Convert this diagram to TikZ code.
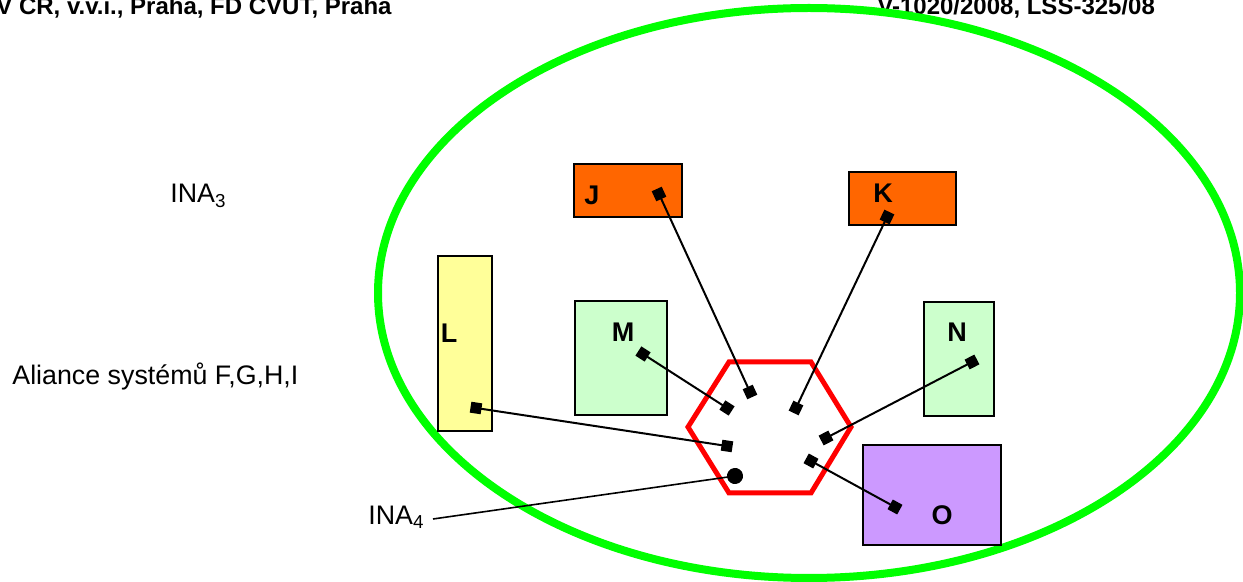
\documentclass[tikz,border=0pt]{standalone}
\usepackage{fontspec}
\setmainfont{Liberation Sans}
\usetikzlibrary{arrows.meta}
\definecolor{orangeJ}{HTML}{FF6600}
\definecolor{yellowL}{HTML}{FFFF99}
\definecolor{greenM}{HTML}{CCFFCC}
\definecolor{purpleO}{HTML}{CC99FF}
\definecolor{ellgreen}{HTML}{00FF00}
\definecolor{hexred}{HTML}{FF0000}
\tikzset{
  sysbox/.style={draw=black, line width=0.7pt, rectangle, inner sep=0pt},
  boxlabel/.style={font=\fontsize{13.5}{15}\selectfont\bfseries, inner sep=0pt},
  plaintext/.style={font=\fontsize{13.4}{15}\selectfont, inner sep=0pt, anchor=base west},
  headtext/.style={font=\fontsize{12}{14}\selectfont\bfseries, inner sep=0pt},
  conn/.style={line width=1pt, {Square[length=5.5pt,width=5.5pt]}-{Square[length=5.5pt,width=5.5pt]},
    shorten <=-2.75pt, shorten >=-2.75pt},
  inaconn/.style={line width=0.8pt, -{Circle[length=8pt]}, shorten >=-4pt}
}
\begin{document}
\begin{tikzpicture}[x=0.5pt,y=-0.5pt]
\useasboundingbox (0,0) rectangle (1243,582);
% headers
\node[headtext, anchor=base east] (h1) at (392,15) {V ČR, v.v.i., Praha, FD ČVUT, Praha};
\node[headtext, anchor=base west] (h2) at (877,15) {V-1020/2008, LSS-325/08};
% green ellipse
\draw[ellgreen, line width=4pt] (809,293) ellipse [x radius=215.5pt, y radius=142.5pt];
% boxes
\node[sysbox, fill=orangeJ, minimum width=54pt, minimum height=26.5pt] (J) at (628,190.5) {};
\node[sysbox, fill=orangeJ, minimum width=53.5pt, minimum height=26.5pt] (K) at (902.5,198.5) {};
\node[sysbox, fill=yellowL, minimum width=27pt, minimum height=87.5pt] (L) at (465,343.5) {};
\node[sysbox, fill=greenM, minimum width=46pt, minimum height=57pt] (M) at (621,358) {};
\node[sysbox, fill=greenM, minimum width=35pt, minimum height=57pt] (N) at (959,359) {};
\node[sysbox, fill=purpleO, minimum width=69pt, minimum height=50pt] (O) at (932,495) {};
% labels
\node[boxlabel] (Jl) at (592,195) {J};
\node[boxlabel] (Kl) at (883,193) {K};
\node[boxlabel] (Ll) at (449,333) {L};
\node[boxlabel] (Ml) at (623,332) {M};
\node[boxlabel] (Nl) at (957,332) {N};
\node[boxlabel] (Ol) at (942,515) {O};
% hexagon
\coordinate (h1c) at (729,362);
\coordinate (h2c) at (811,362);
\coordinate (h3c) at (851,427);
\coordinate (h4c) at (811,493);
\coordinate (h5c) at (729,493);
\coordinate (h6c) at (688,427);
\draw[hexred, line width=2.5pt, line join=miter] (h1c) -- (h2c) -- (h3c) -- (h4c) -- (h5c) -- (h6c) -- cycle;
% texts
\node[plaintext] (ina3) at (170,203) {INA\textsubscript{3}};
\node[plaintext] (ali) at (12,385) {Aliance systémů F,G,H,I};
\node[plaintext] (ina4) at (368,524) {INA\textsubscript{4}};
% connector ends
\coordinate (jA) at (659,194);  \coordinate (jB) at (750,392);
\coordinate (kA) at (887,217);  \coordinate (kB) at (796,408);
\coordinate (mA) at (643,354);  \coordinate (mB) at (727,408);
\coordinate (lA) at (476,408);  \coordinate (lB) at (727,446);
\coordinate (nA) at (972,362);  \coordinate (nB) at (826,438);
\coordinate (oA) at (895,507);  \coordinate (oB) at (811,461);
\coordinate (iA) at (433,519);  \coordinate (iB) at (735,476);
\draw[conn] (jA) -- (jB);
\draw[conn] (kA) -- (kB);
\draw[conn] (mA) -- (mB);
\draw[conn] (lA) -- (lB);
\draw[conn] (nA) -- (nB);
\draw[conn] (oA) -- (oB);
\draw[inaconn] (iA) -- (iB);
\end{tikzpicture}
\end{document}
